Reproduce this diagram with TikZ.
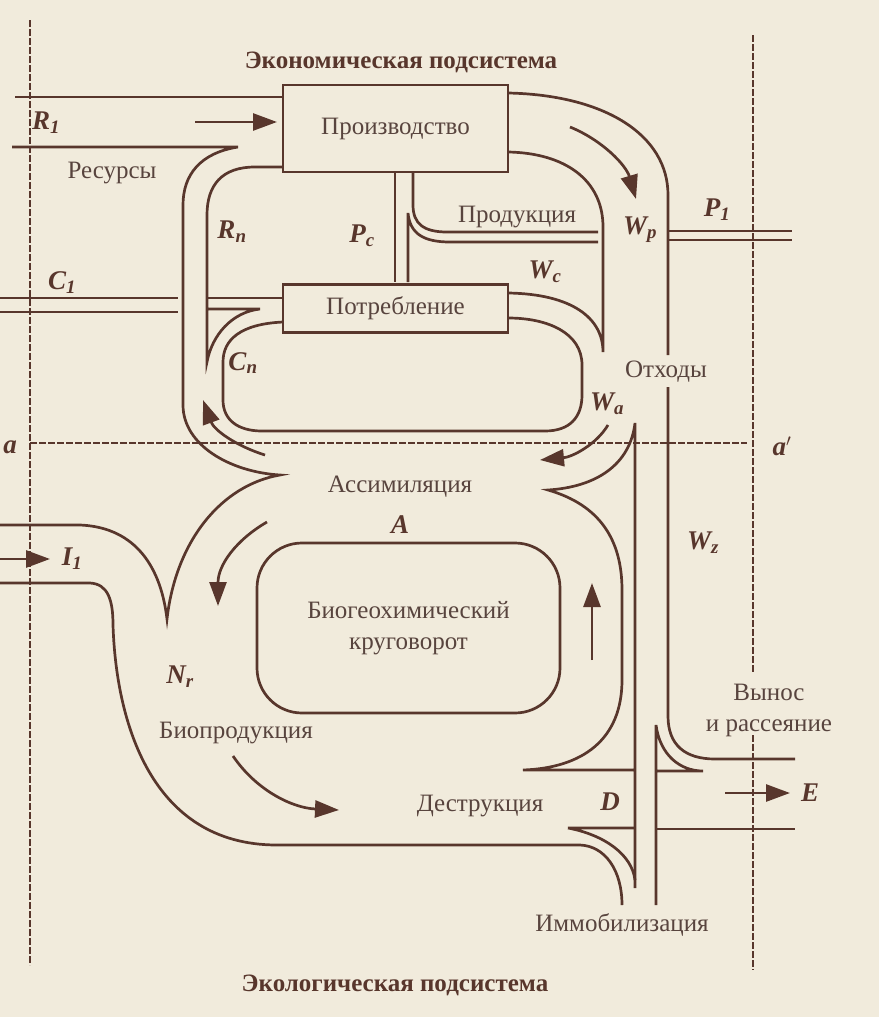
\documentclass[tikz,border=0pt]{standalone}
\usepackage{fontspec}
\setmainfont{Liberation Serif}
\usetikzlibrary{arrows.meta,positioning}

\definecolor{ink}{RGB}{88,54,44}
\definecolor{paper}{RGB}{241,235,220}
\definecolor{txt}{RGB}{88,68,62}

\tikzset{
  pipe/.style={draw=ink, line width=2.7pt},
  flow/.style={pipe, -{Triangle[length=24pt,width=17pt]}},
  axis/.style={draw=ink, line width=2.7pt, dash pattern=on 7pt off 2pt},
  unit/.style={draw=ink, line width=2.7pt, fill=paper, minimum width=225pt, inner sep=0pt,
    font=\fontsize{25}{29}\selectfont, text=txt},
  lbl/.style={font=\fontsize{25}{31}\selectfont, text=txt, inner sep=0pt},
  sym/.style={font=\fontsize{27}{30}\selectfont\bfseries\itshape, text=ink, inner sep=0pt},
  head/.style={font=\fontsize{25}{29}\selectfont\bfseries, text=ink, inner sep=0pt}
}

\begin{document}
\begin{tikzpicture}[x=1pt, y=-1pt]
    \fill[paper] (0,0) rectangle (879,1017);
    \useasboundingbox (0,0) rectangle (879,1017);

    % border lines a-a'
    \draw[axis] (30,20) -- (30,965);
    \draw[axis] (30,443) -- (747,443);
    \draw[axis] (753,35) -- (753,673) (753,735) -- (753,970);

    % economic part
    \draw[pipe] (15,97) -- (283,97);
    \draw[pipe] (12,147) -- (238,147) .. controls (200,153) and (183,175) .. (183,205)
      -- (183,405) .. controls (183,445) and (230,472) .. (280,475)
      .. controls (222,485) and (176,540) .. (167,619)
      .. controls (160,560) and (130,527) .. (80,525) -- (0,525);
    \draw[pipe] (283,167) -- (255,167) .. controls (222,167) and (207,185) .. (207,215)
      -- (207,362) .. controls (212,335) and (232,312) .. (260,309) -- (207,309);
    \draw[pipe] (207,298) -- (283,298);
    \draw[pipe] (0,298) -- (178,298) (0,312) -- (178,312);
    \draw[pipe] (283,322) .. controls (240,324) and (223,340) .. (223,362) -- (223,400)
      .. controls (223,420) and (238,431) .. (262,431) -- (545,431)
      .. controls (570,431) and (582,417) .. (582,395) -- (582,365)
      .. controls (582,333) and (548,318) .. (508,318);
    \draw[pipe] (508,293) .. controls (572,294) and (603,318) .. (603,352)
      -- (603,227) .. controls (603,180) and (565,153) .. (508,152);
    \draw[pipe] (508,93) .. controls (605,95) and (668,135) .. (668,195) -- (668,355);
    \draw[pipe] (668,387) -- (668,716) .. controls (668,745) and (685,759) .. (715,759) -- (795,759);
    \draw[pipe] (668,231) -- (792,231) (668,240) -- (792,240);
    \draw[pipe] (413,172) -- (413,205) .. controls (413,224) and (424,232) .. (447,232) -- (598,232);
    \draw[pipe] (408,282) -- (408,213) .. controls (410,234) and (424,242) .. (450,242) -- (598,242);
    \draw[pipe] (395,172) -- (395,282);

    % ecological part
    \draw[pipe] (635,888) -- (635,423) .. controls (630,465) and (596,487) .. (548,490)
      .. controls (600,505) and (622,540) .. (622,590) -- (622,680)
      .. controls (622,740) and (582,768) .. (523,770) -- (635,770);
    \draw[pipe] (635,828) -- (568,828) .. controls (605,835) and (632,855) .. (635,880);
    \draw[pipe] (0,583) -- (90,583) .. controls (108,584) and (113,600) .. (113,625)
      .. controls (116,720) and (150,845) .. (277,845) -- (580,845)
      .. controls (605,846) and (622,870) .. (622,905);
    \draw[pipe] (656,905) -- (656,725) .. controls (660,755) and (680,771) .. (703,771) -- (656,771);
    \draw[pipe] (656,829) -- (795,829);

    \node[unit, minimum height=87pt] (prod) at (395.5,128.5) {Производство};
    \node[unit, minimum height=48pt, below=110pt of prod] (cons) {Потребление};
    \node[pipe, lbl, rounded corners=45pt, minimum width=303pt, minimum height=170pt,
      align=center] (cycle) at (408.5,628) {Биогеохимический\\круговорот};

    % flows
    \draw[flow] (195,122) -- (277,122);
    \draw[flow] (570,127) .. controls (602,140) and (626,165) .. (636,199);
    \draw[flow] (608,425) .. controls (596,445) and (572,457) .. (540,460);
    \draw[flow] (265,455) .. controls (236,446) and (214,430) .. (203,400);
    \draw[flow] (267,522) .. controls (236,540) and (218,565) .. (218,606);
    \draw[flow] (592,660) -- (592,583);
    \draw[flow] (233,756) .. controls (256,790) and (292,808) .. (339,810);
    \draw[flow] (0,559) -- (50,559);
    \draw[flow] (725,793) -- (790,793);

    % texts
    \node[head] (econ) at (401,62) {Экономическая подсистема};
    \node[head] (ecol) at (395,985) {Экологическая подсистема};
    \node[lbl] (res) at (112,173) {Ресурсы};
    \node[lbl] (prd) at (517,217) {Продукция};
    \node[lbl] (waste) at (666,372) {Отходы};
    \node[lbl] (assim) at (400,487) {Ассимиляция};
    \node[lbl] (bio) at (236,733) {Биопродукция};
    \node[lbl] (destr) at (480,806) {Деструкция};
    \node[lbl] (immob) at (622,925) {Иммобилизация};
    \node[lbl, align=center] (export) at (769,710) {Вынос\\и рассеяние};

    \node[sym] (R1) at (46,123) {R\textsubscript{1}};
    \node[sym] (C1) at (62,283) {C\textsubscript{1}};
    \node[sym] (Rn) at (232,232) {R\textsubscript{n}};
    \node[sym] (Pc) at (362,236) {P\textsubscript{c}};
    \node[sym] (Cn) at (243,363) {C\textsubscript{n}};
    \node[sym] (Wc) at (545,272) {W\textsubscript{c}};
    \node[sym] (Wp) at (640,230) {W\textsubscript{p}};
    \node[sym] (P1) at (717,210) {P\textsubscript{1}};
    \node[sym] (Wa) at (607,404) {W\textsubscript{a}};
    \node[sym, below=18pt of assim] (A) {A};
    \node[sym] (a) at (10,447) {a};
    \node[sym] (a2) at (782,446) {a$'$};
    \node[sym] (I1) at (72,559) {I\textsubscript{1}};
    \node[sym] (Nr) at (180,677) {N\textsubscript{r}};
    \node[sym] (Wz) at (703,543) {W\textsubscript{z}};
    \node[sym] (D) at (610,802) {D};
    \node[sym] (E) at (810,793) {E};
\end{tikzpicture}
\end{document}
